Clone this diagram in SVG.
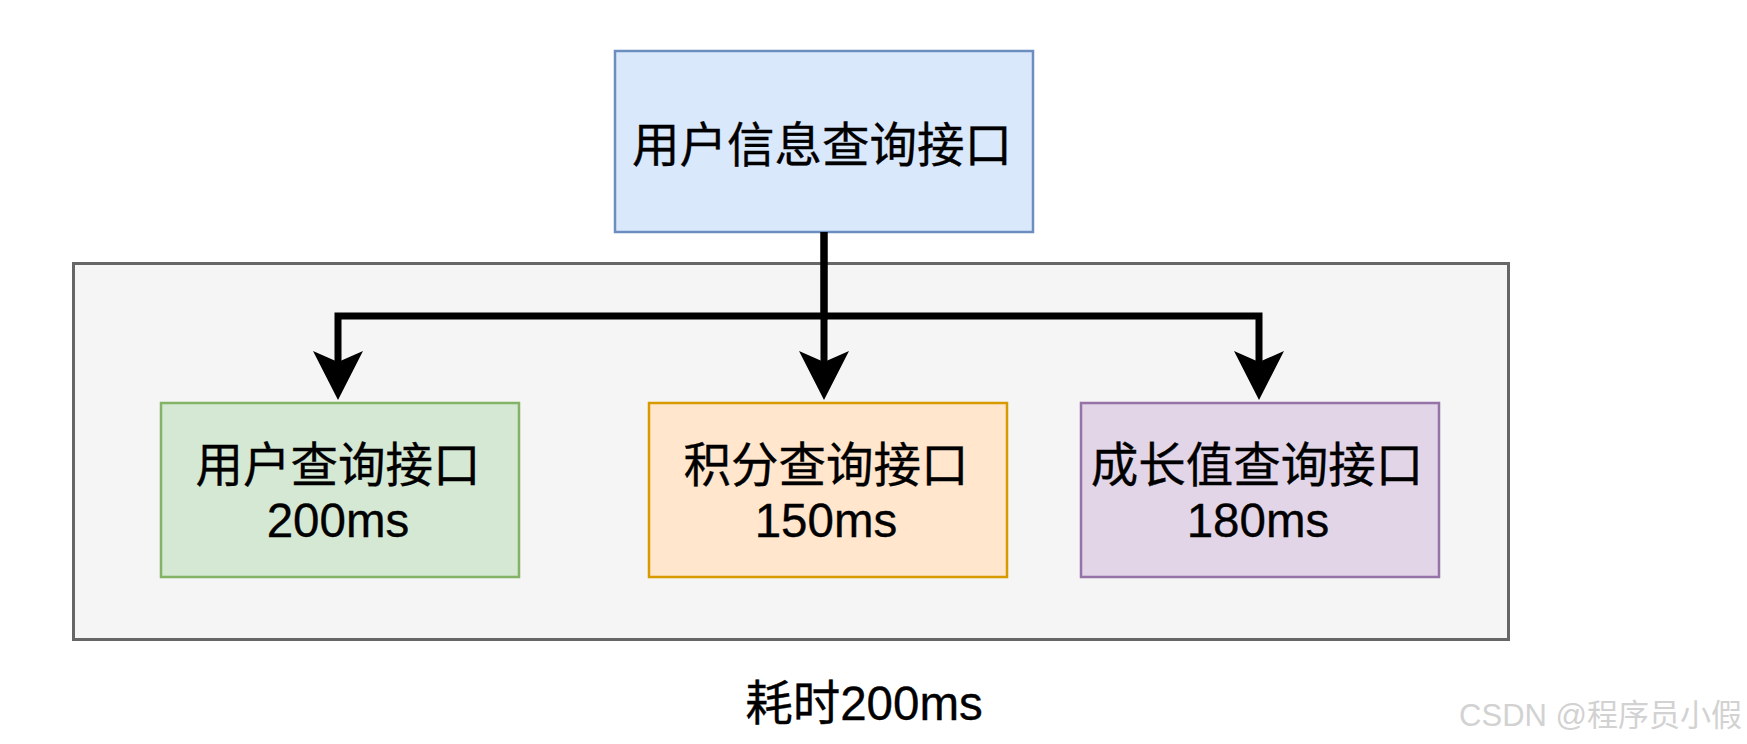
<svg xmlns="http://www.w3.org/2000/svg" width="1747" height="744" viewBox="0 0 1747 744">
  <defs>
    <style>
      .lbl { font-family: "Liberation Sans", "Noto Sans CJK SC", sans-serif; font-size: 47.5px; fill: #000; stroke: #000; stroke-width: 0.35; text-anchor: middle; }
      .box { stroke-width: 2.5; }
      .edge { fill: none; stroke: #000; stroke-width: 7; stroke-linejoin: miter; }
      .wm { font-family: "Liberation Sans", "Noto Sans CJK SC", sans-serif; font-size: 31px; fill: #d2d2d2; text-anchor: end; }
    </style>
    <marker id="arrow" markerUnits="userSpaceOnUse" markerWidth="52" markerHeight="52" viewBox="0 0 52 52" refX="11" refY="25" orient="auto">
      <path d="M0,0 L49,25 L0,50 L11,25 Z" fill="#000"/>
    </marker>
  </defs>
  <rect width="1747" height="744" fill="#ffffff"/>

  <g id="container">
    <rect x="73.5" y="263.5" width="1435" height="376" fill="#f5f5f5" stroke="#666666" stroke-width="3"/>
  </g>

  <g id="top-node">
    <rect class="box" x="615" y="51" width="418" height="181" fill="#dae8fc" stroke="#6c8ebf"/>
    <text class="lbl" x="822" y="162">用户信息查询接口</text>
  </g>

  <g id="connectors">
    <path class="edge" d="M824,232 V316 H338 V362" marker-end="url(#arrow)"/>
    <path class="edge" d="M824,232 V362" marker-end="url(#arrow)"/>
    <path class="edge" d="M824,316 H1259 V362" marker-end="url(#arrow)"/>
  </g>

  <g id="node-user">
    <rect class="box" x="161" y="403" width="358" height="174" fill="#d5e8d4" stroke="#82b366"/>
    <text class="lbl" x="338" y="482">用户查询接口</text>
    <text class="lbl" x="338" y="537">200ms</text>
  </g>

  <g id="node-points">
    <rect class="box" x="649" y="403" width="358" height="174" fill="#ffe6cc" stroke="#d79b00"/>
    <text class="lbl" x="826" y="482">积分查询接口</text>
    <text class="lbl" x="826" y="537">150ms</text>
  </g>

  <g id="node-growth">
    <rect class="box" x="1081" y="403" width="358" height="174" fill="#e1d5e7" stroke="#9673a6"/>
    <text class="lbl" x="1257" y="482">成长值查询接口</text>
    <text class="lbl" x="1258" y="537">180ms</text>
  </g>

  <g id="total-label">
    <text class="lbl" x="864" y="720">耗时200ms</text>
  </g>

  <g id="watermark">
    <text class="wm" x="1742" y="726">CSDN @程序员小假</text>
  </g>
</svg>
